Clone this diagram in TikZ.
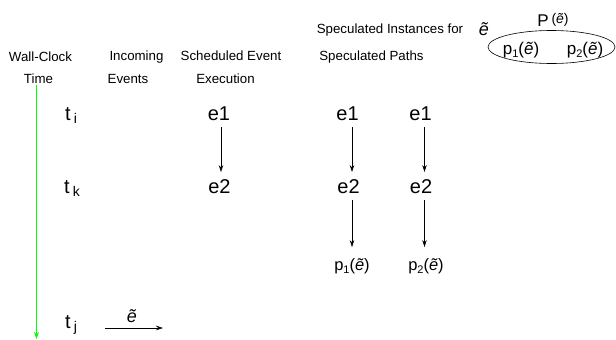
\documentclass[tikz,border=0pt]{standalone}
\usepackage{fontspec}
\setmainfont{Liberation Sans}
\usetikzlibrary{arrows.meta,shapes.geometric}
\newcommand\etl{\textit{ẽ}}
\newcommand\subx[1]{\raisebox{-3.5pt}{\fontsize{11}{13}\selectfont #1}}
\begin{document}
\begin{tikzpicture}[x=1pt,y=-1pt,
 hdr/.style={font=\fontsize{13.3}{15}\selectfont, inner sep=0, anchor=base},
 ev/.style={font=\fontsize{20}{23}\selectfont, inner sep=0, outer sep=7pt, anchor=base},
 tm/.style={font=\fontsize{20}{23}\selectfont, inner sep=0, anchor=base},
 pp/.style={font=\fontsize{16.5}{19}\selectfont, inner sep=0, outer sep=11pt, anchor=base},
 pin/.style={font=\fontsize{17}{20}\selectfont, inner sep=0, anchor=base},
 arr/.style={-{Stealth[length=7pt,width=4.5pt]}, line width=0.6pt},
]
\useasboundingbox (0,0) rectangle (616,340);
% headers
\node[hdr] (h1) at (40.5,61) {Wall-Clock};
\node[hdr] (h2) at (38.5,83) {Time};
\node[hdr] (h3) at (136.5,60) {Incoming};
\node[hdr] (h4) at (128,83) {Events};
\node[hdr] (h5) at (231,60) {Scheduled Event};
\node[hdr] (h6) at (225.5,83) {Execution};
\node[hdr] (h7) at (390,33) {Speculated Instances for};
\node[font=\fontsize{18}{20}\selectfont, inner sep=0, anchor=base] (h7e) at (484,35) {\etl};
\node[hdr] (h8) at (371.5,60) {Speculated Paths};
% P(e) and ellipse
\node[font=\fontsize{17}{20}\selectfont, inner sep=0, anchor=base] (Pe) at (553,26)
  {P\,\raisebox{2pt}{\fontsize{14}{16}\selectfont(\etl)}};
\node[draw, ellipse, line width=0.6pt, minimum width=127pt, minimum height=33pt, inner sep=0] (ell) at (551.5,47) {};
\node[pin] (q1) at (521,54) {p\subx{1}(\etl)};
\node[pin] (q2) at (585,54) {p\subx{2}(\etl)};
% time axis
\coordinate (gtop) at (36.5,85);
\coordinate (gbot) at (36.5,339);
\draw[-{Stealth[length=7pt,width=5pt]}, line width=0.8pt, green] (gtop) -- (gbot);
\node[tm] (ti) at (71,120) {t\,\subx{\fontsize{14}{16}\selectfont i}};
\node[tm] (tk) at (72,193) {t\,\subx{\fontsize{14}{16}\selectfont k}};
\node[tm] (tj) at (71,328) {t\,\subx{\fontsize{14}{16}\selectfont j}};
% incoming event
\coordinate (ia) at (105,328);
\coordinate (ib) at (163,328);
\draw[arr] (ia) -- node[above=5pt, inner sep=0, font=\fontsize{18}{20}\selectfont, xshift=-2pt] (ie) {\etl} (ib);
% column 1
\node[ev] (a1) at (219,120) {e1};
\node[ev] (a2) at (219.5,193) {e2};
\draw[arr] ([xshift=2pt]a1.south) -- ([xshift=1.5pt]a2.north);
% column 2
\node[ev] (b1) at (347.5,120) {e1};
\node[ev] (b2) at (348.5,193) {e2};
\node[pp] (b3) at (352,270) {p\subx{1}(\etl)};
\draw[arr] ([xshift=4.5pt]b1.south) -- ([xshift=3.5pt]b2.north);
\draw[arr] ([xshift=3.5pt]b2.south) -- ([xshift=0pt]b3.north);
% column 3
\node[ev] (c1) at (420.5,120) {e1};
\node[ev] (c2) at (421,193) {e2};
\node[pp] (c3) at (426,270) {p\subx{2}(\etl)};
\draw[arr] ([xshift=4pt]c1.south) -- ([xshift=3.5pt]c2.north);
\draw[arr] ([xshift=3.5pt]c2.south) -- ([xshift=-1.5pt]c3.north);
\end{tikzpicture}
\end{document}
